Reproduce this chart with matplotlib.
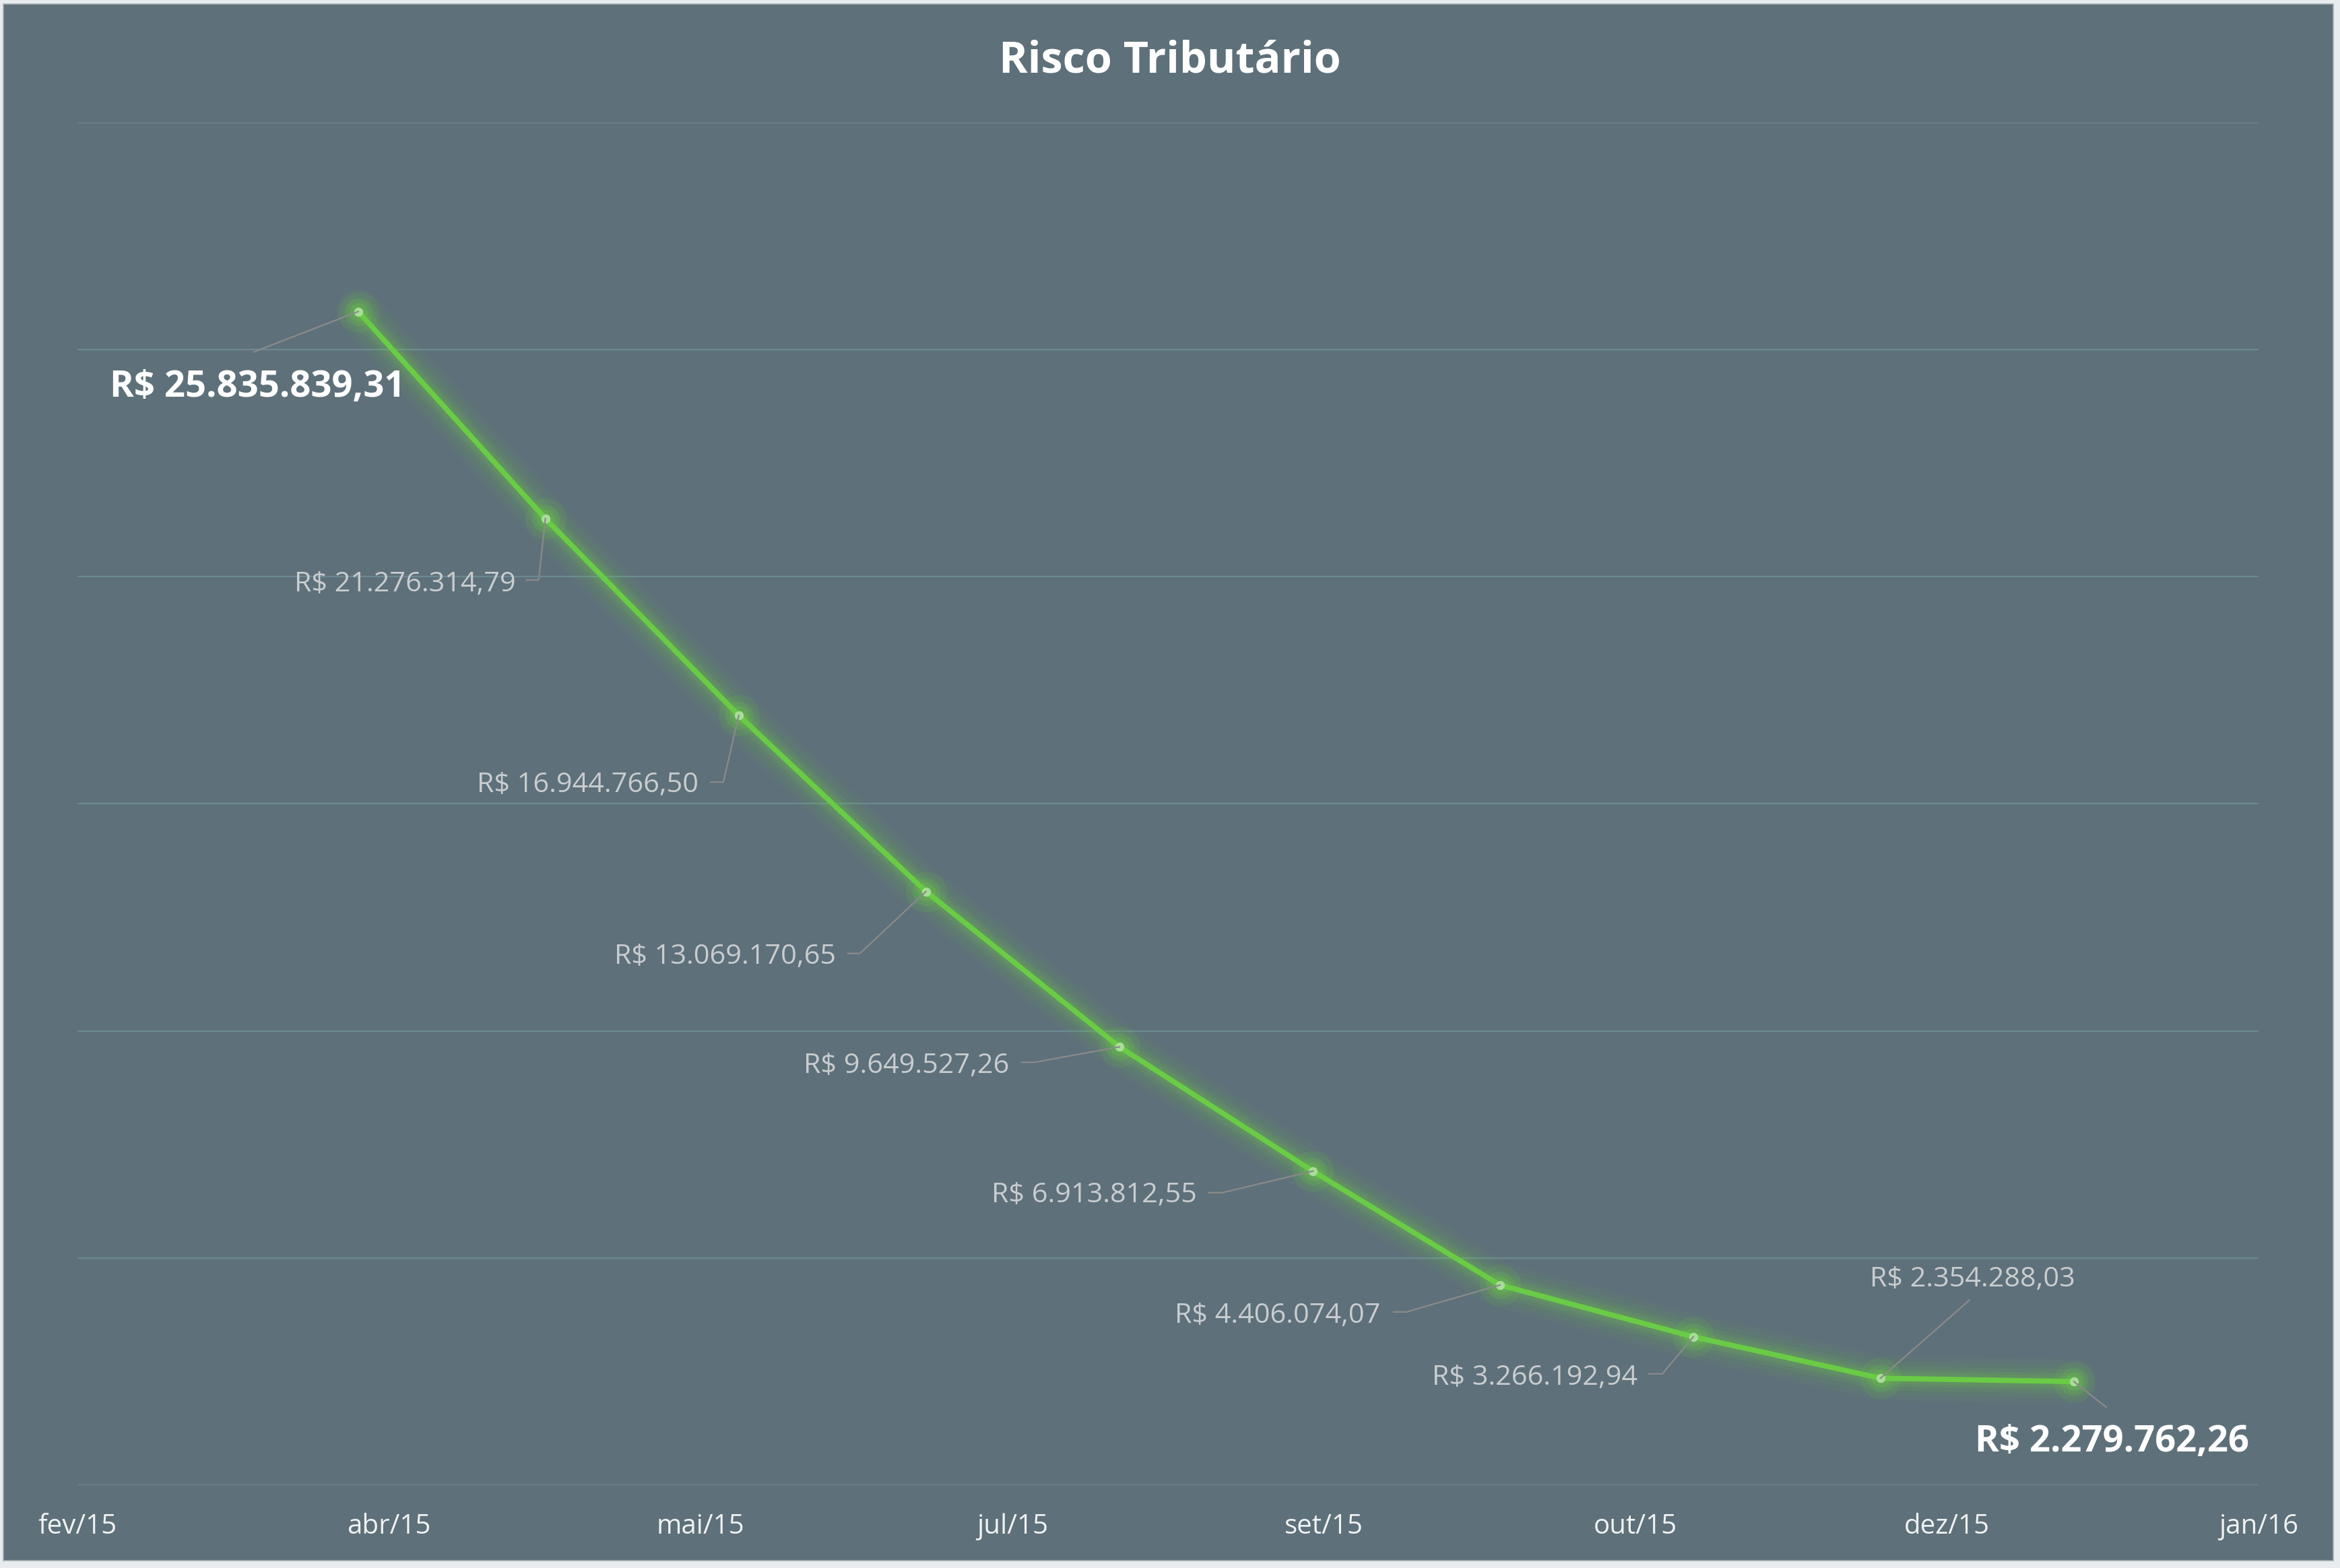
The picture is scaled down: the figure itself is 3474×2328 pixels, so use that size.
import matplotlib
matplotlib.use("Agg")
import matplotlib.pyplot as plt
import matplotlib.dates as mdates
from matplotlib.patches import Rectangle
from matplotlib.lines import Line2D
import numpy as np
import datetime as dt

# ---------------- data ----------------
dates = ["2015-03-31", "2015-04-30", "2015-05-31", "2015-06-30", "2015-07-31",
         "2015-08-31", "2015-09-30", "2015-10-31", "2015-11-30", "2015-12-31"]
values = [25835839.31, 21276314.79, 16944766.50, 13069170.65, 9649527.26,
          6913812.55, 4406074.07, 3266192.94, 2354288.03, 2279762.26]
tick_labels = ["fev/15", "abr/15", "mai/15", "jul/15", "set/15", "out/15", "dez/15", "jan/16"]
title = "Risco Tributário"

# ---------------- layout (pixel offsets of leader lines / labels, y up) ----------------
leader_paths = [
    [(0, 0), (-155, -60)],
    [(0, 0), (-10, -91), (-28, -91)],
    [(0, 0), (-23, -99), (-42, -99)],
    [(0, 0), (-98, -92), (-116, -92)],
    [(0, 0), (-126, -23), (-145, -23)],
    [(0, 0), (-134, -32), (-155, -32)],
    [(0, 0), (-139, -40), (-158, -40)],
    [(0, 0), (-46, -55), (-66, -55)],
    [(0, 0), (132, 116)],
    [(0, 0), (48, -38)],
]
text_offsets = [(-150, -126), (-44, -108), (-60, -114), (-134, -107), (-164, -39),
                (-172, -46), (-177, -56), (-83, -71), (137, 136), (57, -104)]
text_align = ["center", "right", "right", "right", "right", "right", "right", "right", "center", "center"]
highlight = [True, False, False, False, False, False, False, False, False, True]


def brl(v):
    s = f"{v:,.2f}".replace(",", "X").replace(".", ",").replace("X", ".")
    return "R$ " + s


W, H, DPI = 3474, 2328, 200
BG = "#5e7079"
GRID = "#6b8893"
GREEN = "#6acb46"
FONT = ["Open Sans", "DejaVu Sans"]
plt.rcParams["font.family"] = FONT

fig = plt.figure(figsize=(W / DPI, H / DPI), dpi=DPI)
fig.patch.set_facecolor("#e8ecee")
fig.patches.append(Rectangle((5 / W, 1 - 2317 / H), (3464 - 5) / W, (2317 - 6) / H,
                             transform=fig.transFigure, facecolor=BG,
                             edgecolor="#a3adb2", linewidth=0.6, zorder=-5))

ax = fig.add_axes([115 / W, 1 - 2205 / H, (3353 - 115) / W, (2205 - 181.7) / H])
ax.set_zorder(1)
ax.set_facecolor("none")
for s in ax.spines.values():
    s.set_visible(False)

x = [dt.datetime.strptime(d, "%Y-%m-%d") for d in dates]
xn = mdates.date2num(x)
x_left = mdates.date2num(dt.datetime(2015, 2, 14))
x_right = mdates.date2num(dt.datetime(2016, 1, 29, 14))
ax.set_xlim(x_left, x_right)
ax.set_ylim(0, 30e6)

ax.set_yticks(np.arange(0, 30e6 + 1, 5e6))
ax.set_yticklabels([])
ax.tick_params(axis="y", length=0)
ax.grid(axis="y", color=GRID, linewidth=0.85, zorder=1)

ax.set_xticks(np.linspace(x_left, x_right, len(tick_labels)))
ax.set_xticklabels(tick_labels, fontsize=14.5, color="#f0f2f3")
ax.tick_params(axis="x", length=0, pad=15)

# glow
for lw, a in [(24, 0.05), (18, 0.065), (13, 0.085), (9, 0.11), (6, 0.15)]:
    ax.plot(xn, values, color=GREEN, linewidth=lw, alpha=a, solid_capstyle="round",
            solid_joinstyle="round", zorder=2)
ax.plot(xn, values, color=GREEN, linewidth=2.8, solid_joinstyle="round", zorder=3)
for ms, a in [(22, 0.12), (15, 0.17), (10, 0.22)]:
    ax.plot(xn, values, linestyle="none", marker="o", markersize=ms,
            markerfacecolor=GREEN, markeredgecolor="none", alpha=a, zorder=3)
ax.plot(xn, values, linestyle="none", marker="o", markersize=4.8,
        markerfacecolor="#a8dd98", markeredgecolor="none", zorder=4)

# leaders and labels
fig.canvas.draw()
inv = fig.transFigure.inverted()
for i, (xx, v) in enumerate(zip(xn, values)):
    px, py = ax.transData.transform((xx, v))
    pts = [inv.transform((px + dx, py + dy)) for dx, dy in leader_paths[i]]
    fig.lines.append(Line2D([p[0] for p in pts], [p[1] for p in pts],
                            transform=fig.transFigure, color="#8a8a8a",
                            linewidth=0.8, zorder=5))
    tx, ty = inv.transform((px + text_offsets[i][0], py + text_offsets[i][1]))
    if highlight[i]:
        fig.text(tx, ty, brl(v), ha=text_align[i], va="baseline", fontsize=19.6,
                 fontweight="bold", color="white", zorder=6)
    else:
        fig.text(tx, ty, brl(v), ha=text_align[i], va="baseline", fontsize=14.9,
                 color="#c9cdd0", zorder=6)

fig.text(0.5, 1 - 107 / H, title, ha="center", va="baseline", fontsize=23.3,
         fontweight="bold", color="white", zorder=6)

fig.savefig("out.png", dpi=DPI, facecolor=fig.get_facecolor())
